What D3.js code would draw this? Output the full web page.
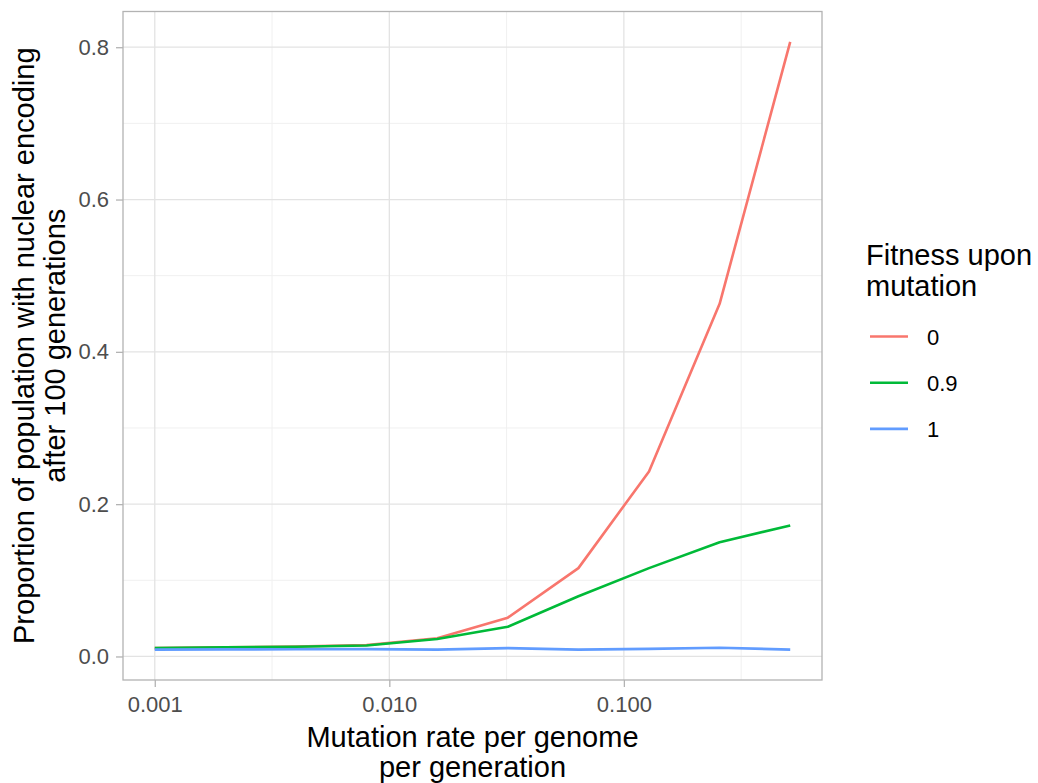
<!DOCTYPE html>
<meta charset="utf-8">
<style>
body { margin: 0; background: #fff; }
text { font-family: "Liberation Sans", Arial, sans-serif; }
</style>
<script src="https://d3js.org/d3.v7.min.js"></script>
<div id="chart"></div>
<script>
// mutation rate per genome per generation
const rates = [0.001, 0.002, 0.004, 0.008, 0.016, 0.032, 0.064, 0.128, 0.256, 0.512];
// proportion with nuclear encoding, one list per fitness level
const fit0  = [0.011, 0.012, 0.013, 0.015, 0.024, 0.051, 0.116, 0.243, 0.463, 0.807];
const fit09 = [0.011, 0.012, 0.0127, 0.0145, 0.023, 0.039, 0.079, 0.116, 0.150, 0.172];
const fit1  = [0.009, 0.0093, 0.0094, 0.0096, 0.009, 0.011, 0.009, 0.010, 0.0115, 0.009];
const seriesNames = ["0", "0.9", "1"];
const colors = ["#F8766D", "#00BA38", "#619CFF"];
const xTicks = [0.001, 0.01, 0.1];
const xMinor = [0.001 * Math.sqrt(10), 0.01 * Math.sqrt(10), 0.1 * Math.sqrt(10)];
const yTicks = [0, 0.2, 0.4, 0.6, 0.8];
const yMinor = [0.1, 0.3, 0.5, 0.7];

const series = [fit0, fit09, fit1].map((v, i) => ({
  name: seriesNames[i], color: colors[i],
  values: v.map((y, j) => ({x: rates[j], y: y}))
}));

const W = 1038, H = 783;
const panel = {left: 123, right: 822, top: 11.5, bottom: 680};

const svg = d3.select("#chart").append("svg")
  .attr("width", W).attr("height", H);

// ggplot-like 5% expansion
const lx0 = Math.log10(d3.min(rates)), lx1 = Math.log10(d3.max(rates));
const dx = (lx1 - lx0) * 0.05;
const x = d3.scaleLog()
  .domain([Math.pow(10, lx0 - dx), Math.pow(10, lx1 + dx)])
  .range([panel.left, panel.right]);

const allY = [].concat(fit0, fit09, fit1);
const y0 = d3.min(allY), y1 = d3.max(allY), dy = (y1 - y0) * 0.05;
const y = d3.scaleLinear()
  .domain([y0 - dy, y1 + dy])
  .range([panel.bottom, panel.top]);

// grid
const grid = svg.append("g");
grid.selectAll(".xminor").data(xMinor).join("line")
  .attr("x1", d => x(d)).attr("x2", d => x(d))
  .attr("y1", panel.top).attr("y2", panel.bottom)
  .attr("stroke", "#f0f0f0").attr("stroke-width", 1);
grid.selectAll(".yminor").data(yMinor).join("line")
  .attr("y1", d => y(d)).attr("y2", d => y(d))
  .attr("x1", panel.left).attr("x2", panel.right)
  .attr("stroke", "#f0f0f0").attr("stroke-width", 1);
grid.selectAll(".xmajor").data(xTicks).join("line")
  .attr("x1", d => x(d)).attr("x2", d => x(d))
  .attr("y1", panel.top).attr("y2", panel.bottom)
  .attr("stroke", "#e3e3e3").attr("stroke-width", 1.3);
grid.selectAll(".ymajor").data(yTicks).join("line")
  .attr("y1", d => y(d)).attr("y2", d => y(d))
  .attr("x1", panel.left).attr("x2", panel.right)
  .attr("stroke", "#e3e3e3").attr("stroke-width", 1.3);

// lines
const line = d3.line().x(d => x(d.x)).y(d => y(d.y));
svg.append("g").selectAll("path").data(series).join("path")
  .attr("fill", "none")
  .attr("stroke", d => d.color)
  .attr("stroke-width", 2.6)
  .attr("stroke-linejoin", "round")
  .attr("d", d => line(d.values));

// panel border
svg.append("rect")
  .attr("x", panel.left).attr("y", panel.top)
  .attr("width", panel.right - panel.left).attr("height", panel.bottom - panel.top)
  .attr("fill", "none").attr("stroke", "#b3b3b3").attr("stroke-width", 1.3);

// axes
const xAxis = svg.append("g")
  .attr("transform", `translate(0,${panel.bottom})`)
  .call(d3.axisBottom(x).tickValues(xTicks).tickFormat(d3.format(".3f"))
    .tickSize(7).tickPadding(9));
const yAxis = svg.append("g")
  .attr("transform", `translate(${panel.left},0)`)
  .call(d3.axisLeft(y).tickValues(yTicks).tickFormat(d3.format(".1f"))
    .tickSize(7).tickPadding(7));
[xAxis, yAxis].forEach(a => {
  a.select(".domain").remove();
  a.selectAll(".tick line").attr("stroke", "#b3b3b3").attr("stroke-width", 1.3);
  a.selectAll(".tick text").attr("fill", "#4d4d4d")
    .style("font-size", "22px").style("font-family", "Liberation Sans, Arial, sans-serif");
});

// axis titles
const cx = (panel.left + panel.right) / 2;
const xt = svg.append("text").attr("text-anchor", "middle")
  .attr("fill", "#000").style("font-size", "29px");
xt.append("tspan").attr("x", cx).attr("y", 747).text("Mutation rate per genome");
xt.append("tspan").attr("x", cx).attr("y", 777).text("per generation");

const cy = (panel.top + panel.bottom) / 2;
const yt = svg.append("text").attr("text-anchor", "middle")
  .attr("fill", "#000").style("font-size", "29px")
  .attr("transform", `translate(0,${cy}) rotate(-90)`);
yt.append("tspan").attr("x", 0).attr("y", 34).text("Proportion of population with nuclear encoding");
yt.append("tspan").attr("x", 0).attr("y", 65).text("after 100 generations");

// legend
const lg = svg.append("g");
lg.append("text").attr("x", 866).attr("y", 265)
  .style("font-size", "29px").attr("fill", "#000").text("Fitness upon");
lg.append("text").attr("x", 866).attr("y", 296)
  .style("font-size", "29px").attr("fill", "#000").text("mutation");
const items = lg.selectAll(".item").data(series).join("g")
  .attr("transform", (d, i) => `translate(0,${336.5 + i * 46.2})`);
items.append("line").attr("x1", 870).attr("x2", 908)
  .attr("stroke", d => d.color).attr("stroke-width", 2.6);
items.append("text").attr("x", 927).attr("y", 8)
  .style("font-size", "22px").attr("fill", "#000").text(d => d.name);
</script>
